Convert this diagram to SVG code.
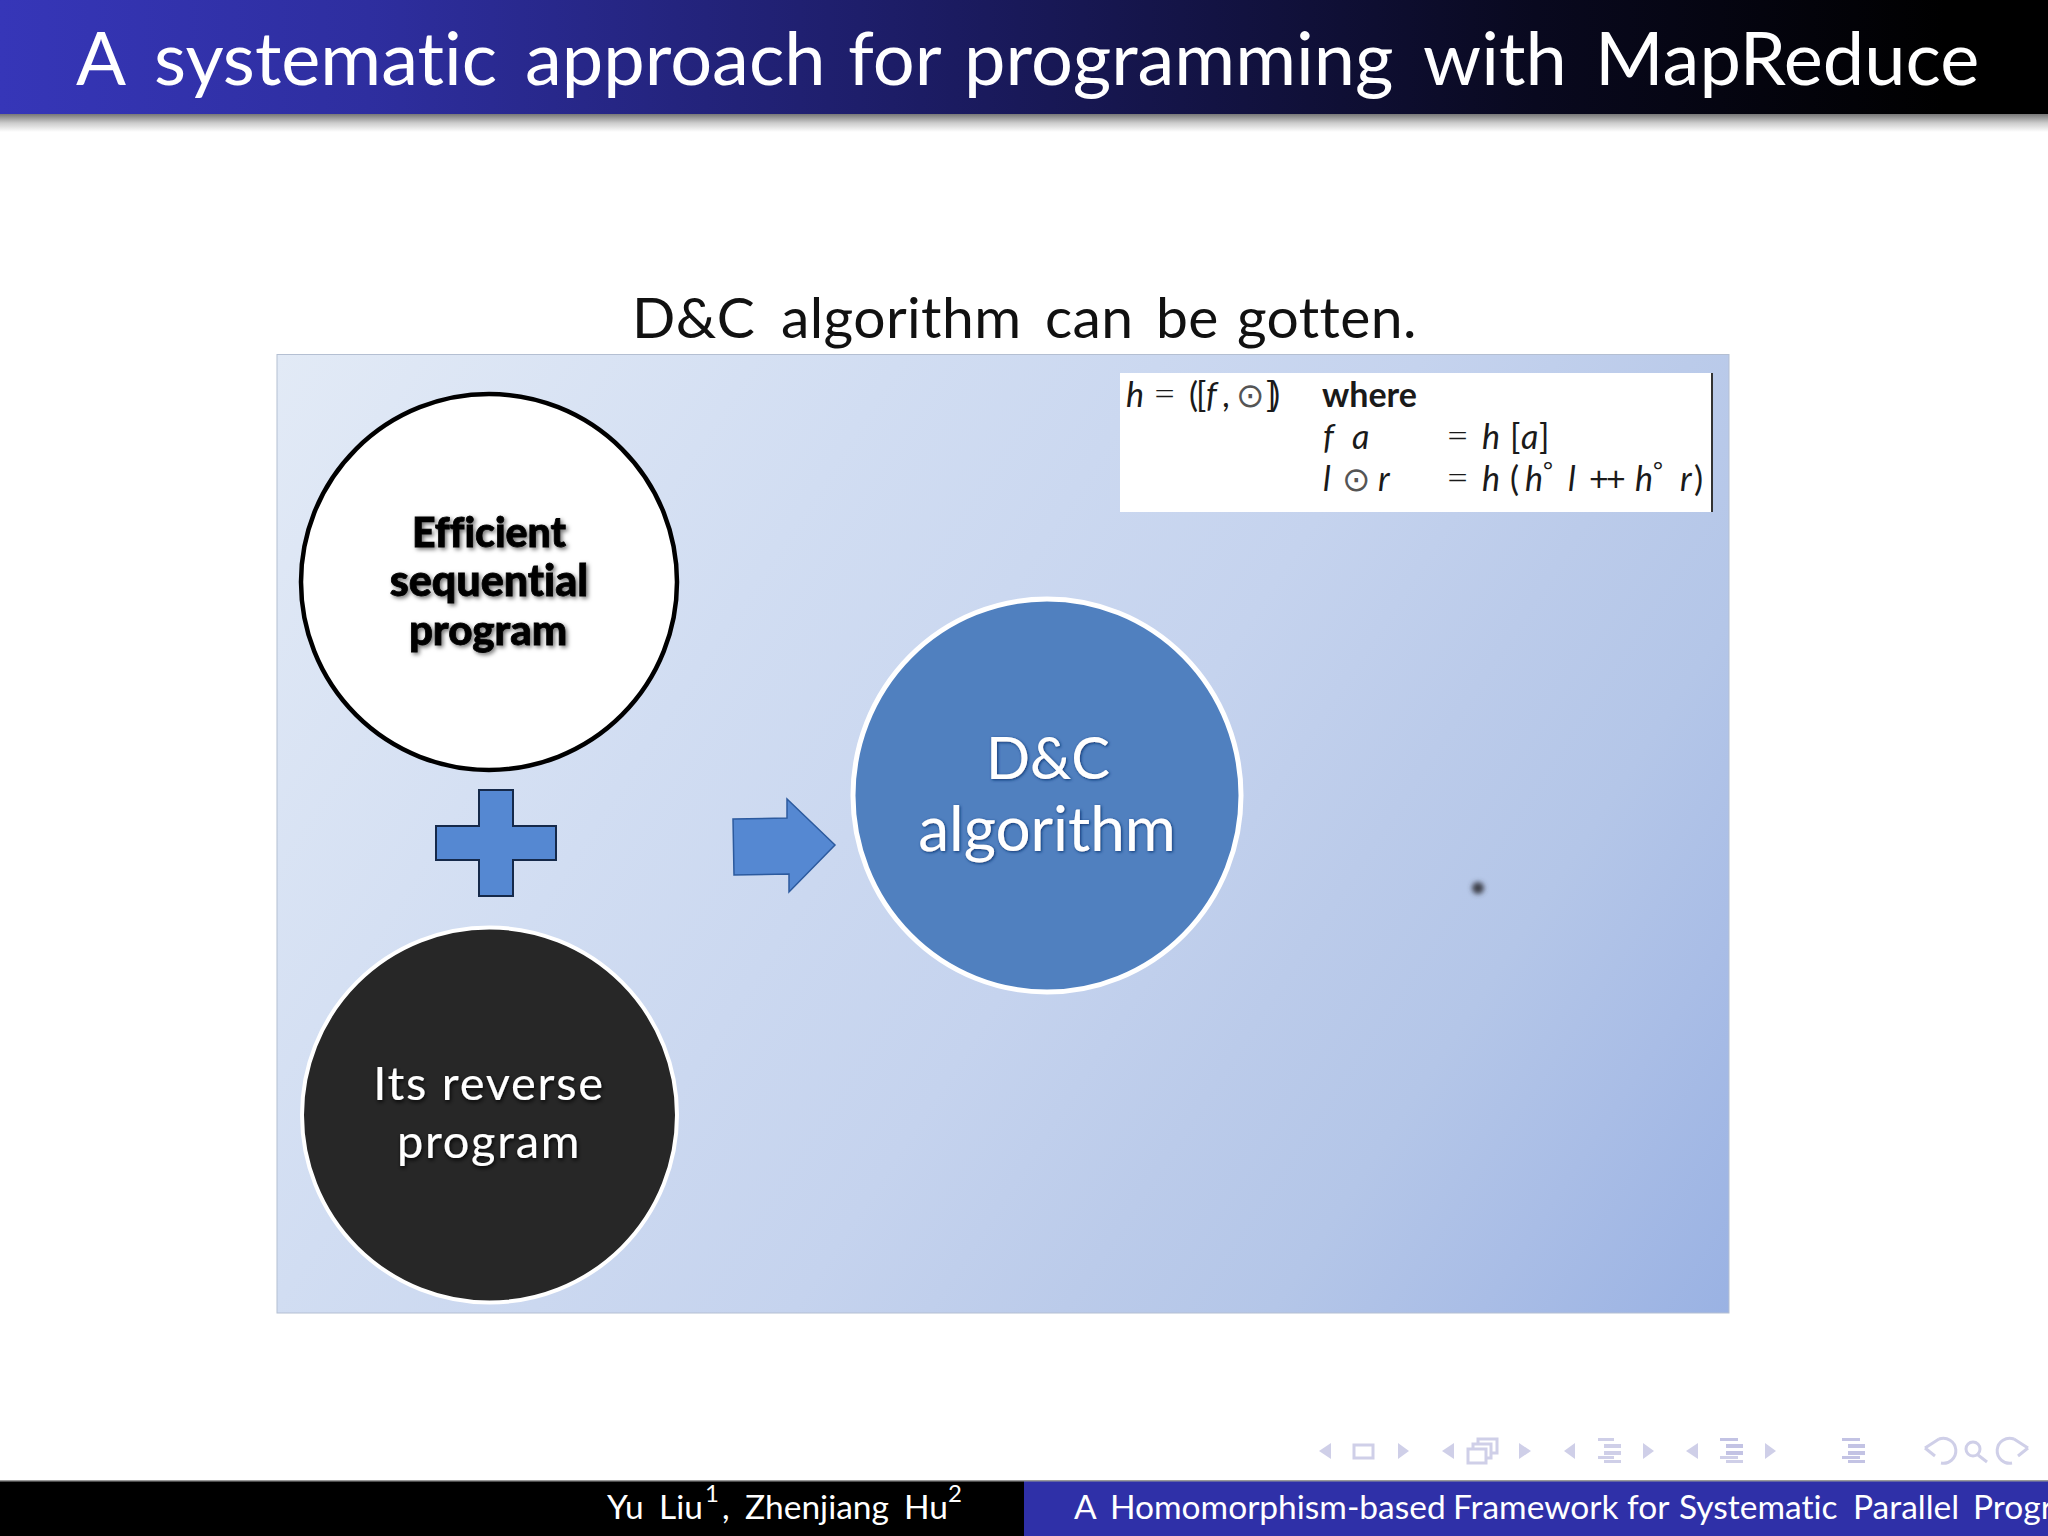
<svg xmlns="http://www.w3.org/2000/svg" width="2048" height="1536" viewBox="0 0 2048 1536">
<style>
text{font-variant-ligatures:none}
.sans{font-family:Lato,"Open Sans",sans-serif}
.lato{font-family:Lato,"Open Sans",sans-serif}
.m{font-family:Lato,"Open Sans",sans-serif;font-size:34px;fill:#1a1a1a}
.i{font-style:italic;font-weight:400}
.eq{font-size:40px;font-weight:300}
.sym{font-family:"DejaVu Sans",sans-serif;fill:#555}
.nav{fill:#cfcfe8}
.navs{fill:none;stroke:#cfcfe8;stroke-width:3}
.navb{fill:#c3c3e4}
.mid{text-anchor:middle}
.shape{fill:#5588d2}
</style>
<defs>
<linearGradient id="hdr" x1="0" x2="1" y1="0" y2="0"><stop offset="0" stop-color="#3636b8"/><stop offset=".18" stop-color="#2e2e9f"/><stop offset=".45" stop-color="#1c1c64"/><stop offset=".75" stop-color="#09091f"/><stop offset=".95" stop-color="#000"/></linearGradient>
<linearGradient id="shd" x1="0" x2="0" y1="0" y2="1"><stop offset="0" stop-color="#777"/><stop offset=".5" stop-color="#ccc"/><stop offset="1" stop-color="#fff"/></linearGradient>
<linearGradient id="panel" gradientUnits="userSpaceOnUse" x1="277" y1="354" x2="1729" y2="1313"><stop offset="0" stop-color="#e2eaf6"/><stop offset=".3" stop-color="#d1ddf2"/><stop offset=".55" stop-color="#c5d3ee"/><stop offset=".68" stop-color="#bbcbea"/><stop offset=".78" stop-color="#b4c6e8"/><stop offset=".88" stop-color="#a9bde6"/><stop offset="1" stop-color="#9ab2e3"/></linearGradient>
<filter id="sblur" x="-20%" y="-20%" width="140%" height="140%"><feDropShadow dx="2" dy="2" stdDeviation="2" flood-color="#000" flood-opacity=".55"/></filter>
<filter id="bglow" x="-20%" y="-20%" width="140%" height="140%"><feDropShadow dx="1" dy="1" stdDeviation="1.800" flood-color="#0a3673" flood-opacity="1"/></filter>
<filter id="wglow" x="-20%" y="-20%" width="140%" height="140%"><feDropShadow dx="1" dy="2" stdDeviation="2" flood-color="#000" flood-opacity=".9"/></filter>
<filter id="dotblur" x="-100%" y="-100%" width="300%" height="300%"><feGaussianBlur stdDeviation="2.500"/></filter>
</defs>

<rect width="2048" height="1536" fill="#fff"/>

<g id="header">
<rect x="0" y="114" width="2048" height="18" fill="url(#shd)"/>
<rect x="0" y="0" width="2048" height="114" fill="url(#hdr)"/>
<text class="sans" y="85" font-size="74" fill="#fff"><tspan x="76">A</tspan><tspan x="154">systematic</tspan><tspan x="525">approach</tspan><tspan x="848">for</tspan><tspan x="964">programming</tspan><tspan x="1423">with</tspan><tspan x="1595">MapReduce</tspan></text>
</g>

<text id="subtitle" class="sans" y="338" font-size="57" letter-spacing=".4" fill="#111"><tspan x="632">D&amp;C</tspan><tspan x="781">algorithm</tspan><tspan x="1045">can</tspan><tspan x="1156">be</tspan><tspan x="1237">gotten.</tspan></text>

<rect id="panel-bg" x="277" y="354.500" width="1452" height="958.500" fill="url(#panel)" stroke="#b4bfd2" stroke-width="1"/>

<g id="formula">
<rect x="1120" y="373" width="592" height="139" fill="#fff"/>
<rect x="1711" y="373" width="2" height="139" fill="#333"/>
<text class="m" y="407"><tspan class="i" x="1126">h</tspan><tspan class="eq" x="1153">=</tspan><tspan x="1189">(</tspan><tspan x="1196">[</tspan><tspan class="i" x="1206">f</tspan><tspan x="1222">,</tspan><tspan class="sym" x="1236">⊙</tspan><tspan x="1266">]</tspan><tspan x="1271">)</tspan></text>
<text class="m" x="1322" y="407" font-weight="700" font-size="31">where</text>
<text class="m" y="449"><tspan class="i" x="1323">f</tspan><tspan class="i" x="1352">a</tspan><tspan class="eq" x="1446">=</tspan><tspan class="i" x="1482">h</tspan><tspan x="1510">[</tspan><tspan class="i" x="1521">a</tspan><tspan x="1539">]</tspan></text>
<text class="m" y="491"><tspan class="i" x="1323">l</tspan><tspan class="sym" x="1342">⊙</tspan><tspan class="i" x="1378">r</tspan><tspan class="eq" x="1446">=</tspan><tspan class="i" x="1482">h</tspan><tspan x="1510">(</tspan><tspan class="i" x="1525">h</tspan><tspan x="1543" dy="-12" font-size="24">°</tspan><tspan class="i" x="1568" dy="12">l</tspan><tspan x="1589">+</tspan><tspan x="1606">+</tspan><tspan class="i" x="1635">h</tspan><tspan x="1653" dy="-12" font-size="24">°</tspan><tspan class="i" x="1680" dy="12">r</tspan><tspan x="1694">)</tspan></text>
</g>

<g id="node-sequential">
<circle cx="489" cy="582" r="188" fill="#fff" stroke="#000" stroke-width="4.500"/>
<g class="lato mid" font-weight="900" fill="#000" stroke="#000" stroke-width=".8" filter="url(#sblur)">
<text x="489" y="547" font-size="41">Efficient</text>
<text x="489" y="596" font-size="43">sequential</text>
<text x="488" y="645" font-size="42">program</text>
</g>
</g>

<g id="node-plus">
<path class="shape" d="M479 790H513V826H556V860H513V896H479V860H436V826H479Z" stroke="#15294a" stroke-width="2"/>
</g>

<g id="node-reverse">
<ellipse cx="489.500" cy="1115" rx="187.500" ry="187.500" fill="#272727" stroke="#fff" stroke-width="4"/>
<g class="lato mid" font-size="47" fill="#fff" letter-spacing="1.700" filter="url(#wglow)">
<text x="489" y="1100">Its reverse</text>
<text x="489" y="1158">program</text>
</g>
</g>

<g id="node-dc">
<ellipse cx="1047" cy="795.500" rx="194" ry="196.500" fill="#5080bf" stroke="#fff" stroke-width="5"/>
<g class="lato mid" fill="#fff" filter="url(#bglow)">
<text x="1048" y="779" font-size="58">D&amp;C</text>
<text x="1047" y="851" font-size="62">algorithm</text>
</g>
</g>

<g id="connectors">
<path class="shape" d="M733 819L787 818V799L835 845L789 892V874L734 875Z" stroke="#2c5a9e" stroke-width="1.500"/>
</g>

<circle id="pointer" cx="1478" cy="888" r="6" fill="#3c3f4a" filter="url(#dotblur)"/>

<g id="footer">
<rect x="0" y="1481" width="1024" height="55" fill="#000"/>
<rect x="1024" y="1481" width="1024" height="55" fill="#2f30a8"/>
<rect x="0" y="1480" width="2048" height="1.500" fill="#999"/>
<text class="sans" y="1519" font-size="33.500" fill="#fff"><tspan x="607">Yu</tspan><tspan x="659">Liu</tspan><tspan x="705" dy="-17" font-size="24">1</tspan><tspan x="722" dy="17">,</tspan><tspan x="745">Zhenjiang</tspan><tspan x="904">Hu</tspan><tspan x="948" dy="-17" font-size="24">2</tspan></text>
<text class="sans" y="1519" font-size="33.500" fill="#fff"><tspan x="1074">A</tspan><tspan x="1110">Homomorphism-based</tspan><tspan x="1453">Framework</tspan><tspan x="1627">for</tspan><tspan x="1679">Systematic</tspan><tspan x="1853">Parallel</tspan><tspan x="1973">Progr</tspan></text>
</g>

<g id="nav">
<path class="nav" d="M1331 1443V1459L1319 1451Z"/>
<rect class="navs" x="1354" y="1445" width="19" height="13"/>
<path class="nav" d="M1398 1443V1459L1409 1451Z"/>
<path class="nav" d="M1454 1443V1459L1442 1451Z"/>
<path class="navs" d="M1468 1449H1486V1463H1468ZM1473 1449V1444H1491V1458H1486M1478 1444V1439H1497V1453H1491"/>
<path class="nav" d="M1519 1443V1459L1531 1451Z"/>
<path class="nav" d="M1575 1443V1459L1564 1451Z"/>
<path class="nav" d="M1598 1438h16v3h-16zM1604 1444h17v4h-17zM1604 1451h17v4h-17zM1598 1456h16v3h-16zM1604 1460h17v3h-17z"/>
<path class="nav" d="M1643 1443V1459L1654 1451Z"/>
<path class="nav" d="M1698 1443V1459L1686 1451Z"/>
<path class="navb" d="M1720 1438h18v3h-18zM1726 1444h17v4h-17zM1726 1451h17v4h-17z"/><path class="nav" d="M1720 1456h18v3h-18zM1726 1460h17v3h-17z"/>
<path class="nav" d="M1765 1443V1459L1776 1451Z"/>
<path class="navb" d="M1842 1438h18v3h-18zM1848 1444h17v4h-17zM1848 1451h17v4h-17zM1842 1456h18v3h-18zM1848 1460h17v3h-17z"/>
<path class="navs" d="M1939 1439A12.500 12.500 0 1 1 1941 1463M1925 1448L1939 1439M1925 1448L1935 1456"/>
<circle class="navs" cx="1973" cy="1449" r="7"/><path class="navs" d="M1978 1455L1987 1462"/>
<path class="navs" d="M2014 1439A12.500 12.500 0 1 0 2012 1463M2028 1448L2014 1439M2028 1448L2018 1456"/>
</g>
</svg>
